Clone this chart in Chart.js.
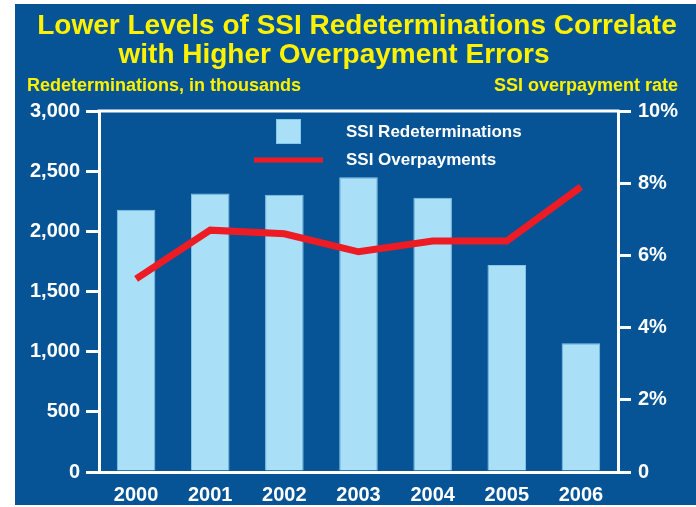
<!DOCTYPE html>
<html>
<head>
<meta charset="utf-8">
<script src="https://cdn.jsdelivr.net/npm/chart.js@4.4.1/dist/chart.umd.min.js"></script>
<style>
  body { margin: 0; background: #fff; }
  canvas { display: block; }
</style>
</head>
<body>
<canvas id="chart" width="696" height="507"></canvas>
<script>
const years = ['2000', '2001', '2002', '2003', '2004', '2005', '2006'];
const redeterminations = [2180, 2315, 2305, 2450, 2280, 1720, 1070]; // thousands
const overpaymentRate = [5.35, 6.7, 6.6, 6.1, 6.4, 6.4, 7.9]; // percent
const leftTicks = [0, 500, 1000, 1500, 2000, 2500, 3000];
const rightTicks = [0, 2, 4, 6, 8, 10];

const titleLines = ['Lower Levels of SSI Redeterminations Correlate', 'with Higher Overpayment Errors'];
const leftAxisTitle = 'Redeterminations, in thousands';
const rightAxisTitle = 'SSI overpayment rate';

const BLUE = '#065495';
const BAR = '#a9e0f8';
const BAR_EDGE = '#86c8ea';
const RED = '#ed1c24';
const YELLOW = '#fff200';
const FONT = '"Liberation Sans", Arial, sans-serif';

const ctx = document.getElementById('chart').getContext('2d');

// blue panel, titles and the top edge of the plot box
const decor = {
    id: 'decor',
    beforeDraw(chart) {
        const c = chart.ctx;
        c.save();
        c.fillStyle = '#fff';
        c.fillRect(0, 0, chart.width, chart.height);
        c.fillStyle = BLUE;
        c.fillRect(15, 4, chart.width - 15, 501);
        c.fillStyle = YELLOW;
        c.font = 'bold 28px ' + FONT;
        c.textBaseline = 'alphabetic';
        c.textAlign = 'center';
        c.fillText(titleLines[0], 357, 34);
        c.fillText(titleLines[1], 334, 63);
        c.font = 'bold 18px ' + FONT;
        c.textAlign = 'left';
        c.fillText(leftAxisTitle, 27, 91);
        c.textAlign = 'right';
        c.fillText(rightAxisTitle, 678, 91);
        c.restore();
    },
    afterDraw(chart) {
        const a = chart.chartArea;
        const c = chart.ctx;
        c.save();
        c.strokeStyle = '#fff';
        c.lineWidth = 3;
        c.beginPath();
        c.moveTo(a.left - 1.5, a.top);
        c.lineTo(a.right + 1.5, a.top);
        c.stroke();
        c.restore();
    }
};

// legend drawn inside the plot, like the original
const insideLegend = {
    id: 'insideLegend',
    afterDatasetsDraw(chart) {
        const c = chart.ctx;
        const ds = chart.data.datasets;
        c.save();
        c.fillStyle = BAR;
        c.fillRect(276, 119, 25, 25);
        c.strokeStyle = BAR_EDGE;
        c.lineWidth = 1;
        c.strokeRect(276.5, 119.5, 24, 24);
        c.strokeStyle = RED;
        c.lineWidth = 5;
        c.beginPath();
        c.moveTo(254, 160);
        c.lineTo(323, 160);
        c.stroke();
        c.fillStyle = '#fff';
        c.font = 'bold 17px ' + FONT;
        c.textBaseline = 'middle';
        c.textAlign = 'left';
        c.fillText(ds[1].label, 346, 132);
        c.fillText(ds[0].label, 346, 160);
        c.restore();
    }
};

new Chart(ctx, {
    data: {
        labels: years,
        datasets: [{
            type: 'line',
            label: 'SSI Overpayments',
            data: overpaymentRate,
            yAxisID: 'y1',
            borderColor: RED,
            borderWidth: 7,
            pointRadius: 0,
            tension: 0,
            order: 0
        }, {
            type: 'bar',
            label: 'SSI Redeterminations',
            data: redeterminations,
            yAxisID: 'y',
            backgroundColor: BAR,
            borderColor: BAR_EDGE,
            borderWidth: 1,
            barPercentage: 0.52,
            categoryPercentage: 1.0,
            order: 1
        }]
    },
    options: {
        responsive: false,
        animation: false,
        layout: { padding: { top: 111, left: 0, right: 0, bottom: 0 } },
        plugins: {
            legend: { display: false },
            tooltip: { enabled: false }
        },
        scales: {
            x: {
                grid: { display: false, drawTicks: false },
                border: { display: true, color: '#fff', width: 3 },
                ticks: { color: '#fff', font: { family: FONT, size: 20, weight: 'bold' }, padding: 11 },
                afterFit(s) { s.height = 35; }
            },
            y: {
                position: 'left',
                min: 0,
                max: 3000,
                afterBuildTicks(s) { s.ticks = leftTicks.map(v => ({ value: v })); },
                grid: { drawOnChartArea: false, drawTicks: true, tickLength: 13, color: '#fff', lineWidth: 3 },
                border: { display: true, color: '#fff', width: 3 },
                ticks: {
                    color: '#fff',
                    padding: 6,
                    font: { family: FONT, size: 20, weight: 'bold' },
                    callback: v => v.toLocaleString('en-US')
                },
                afterFit(s) { s.width = 99; }
            },
            y1: {
                position: 'right',
                min: 0,
                max: 10,
                afterBuildTicks(s) { s.ticks = rightTicks.map(v => ({ value: v })); },
                grid: { drawOnChartArea: false, drawTicks: true, tickLength: 13, color: '#fff', lineWidth: 3 },
                border: { display: true, color: '#fff', width: 3 },
                ticks: {
                    color: '#fff',
                    padding: 7,
                    font: { family: FONT, size: 20, weight: 'bold' },
                    callback: v => v === 0 ? '0' : v + '%'
                },
                afterFit(s) { s.width = 78; }
            }
        }
    },
    plugins: [decor, insideLegend]
});
</script>
</body>
</html>
